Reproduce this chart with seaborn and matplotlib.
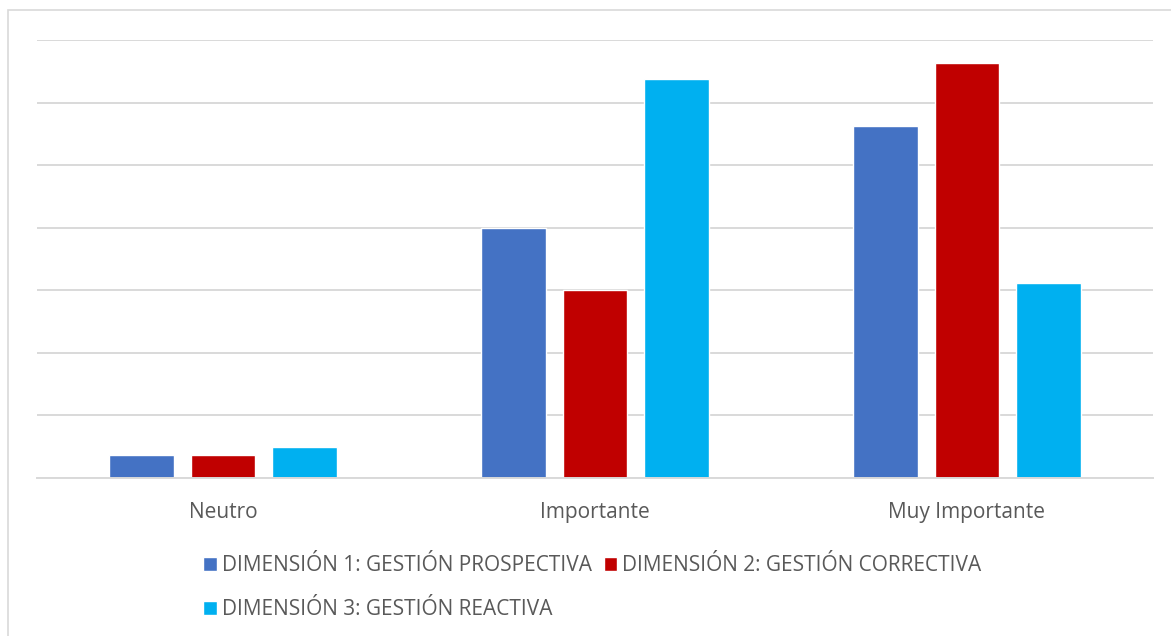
import matplotlib
matplotlib.use("Agg")
import matplotlib.pyplot as plt
import seaborn as sns
import pandas as pd
from matplotlib.patches import Patch, Rectangle

categories = ["Neutro", "Importante", "Muy Importante"]
series_names = ["DIMENSIÓN 1: GESTIÓN PROSPECTIVA",
                "DIMENSIÓN 2: GESTIÓN CORRECTIVA",
                "DIMENSIÓN 3: GESTIÓN REACTIVA"]
dim1 = [3.7, 40.0, 56.3]
dim2 = [3.7, 30.0, 66.3]
dim3 = [5.0, 63.8, 31.2]
colors = ["#4472C4", "#C00000", "#00B0F0"]

rows = []
for name, vals in zip(series_names, [dim1, dim2, dim3]):
    for c, v in zip(categories, vals):
        rows.append({"cat": c, "serie": name, "val": v})
df = pd.DataFrame(rows)

sns.set_theme(style="white")
plt.rcParams["font.family"] = ["Open Sans", "DejaVu Sans"]

fig = plt.figure(figsize=(11.71, 6.36), dpi=100)
ax = fig.add_axes([37/1171, 1-478/636, (1153-37)/1171, (478-40)/636])

sns.barplot(data=df, x="cat", y="val", hue="serie", order=categories,
            hue_order=series_names, palette=colors, width=0.66, gap=0.207,
            saturation=1, ax=ax, legend=False, errorbar=None)

ax.set_xlim(-0.5, 2.5)
ax.set_ylim(0, 70)
ax.set_yticks(range(0, 71, 10))
ax.set_yticklabels([])
ax.tick_params(axis="y", length=0)
ax.tick_params(axis="x", length=0, labelsize=15, labelcolor="#595959", pad=17)
ax.yaxis.grid(True, color="#D9D9D9", linewidth=1.4)
ax.set_axisbelow(True)
for s in ["top", "right", "left"]:
    ax.spines[s].set_visible(False)
ax.spines["bottom"].set_color("#D9D9D9")
ax.spines["bottom"].set_linewidth(1.4)
ax.set_xlabel("")
ax.set_ylabel("")

handles = [Patch(facecolor=colors[0]), Patch(facecolor=colors[2]), Patch(facecolor=colors[1])]
labels = [series_names[0], series_names[2], series_names[1]]
leg = fig.legend(handles, labels, loc="upper left", bbox_to_anchor=(193/1171, 1-545/636),
                 ncol=2, frameon=False, fontsize=15, handlelength=0.65, handleheight=0.65,
                 handletextpad=0.25, columnspacing=0.55, labelspacing=1.1, borderpad=0)
for t in leg.get_texts():
    t.set_color("#595959")

fig.patches.append(Rectangle((8/1171, -0.1), 1.2, 1-10/636+0.1, transform=fig.transFigure,
                             fill=False, edgecolor="#D9D9D9", linewidth=1.2, zorder=0))

fig.savefig("out.png", dpi=100)
